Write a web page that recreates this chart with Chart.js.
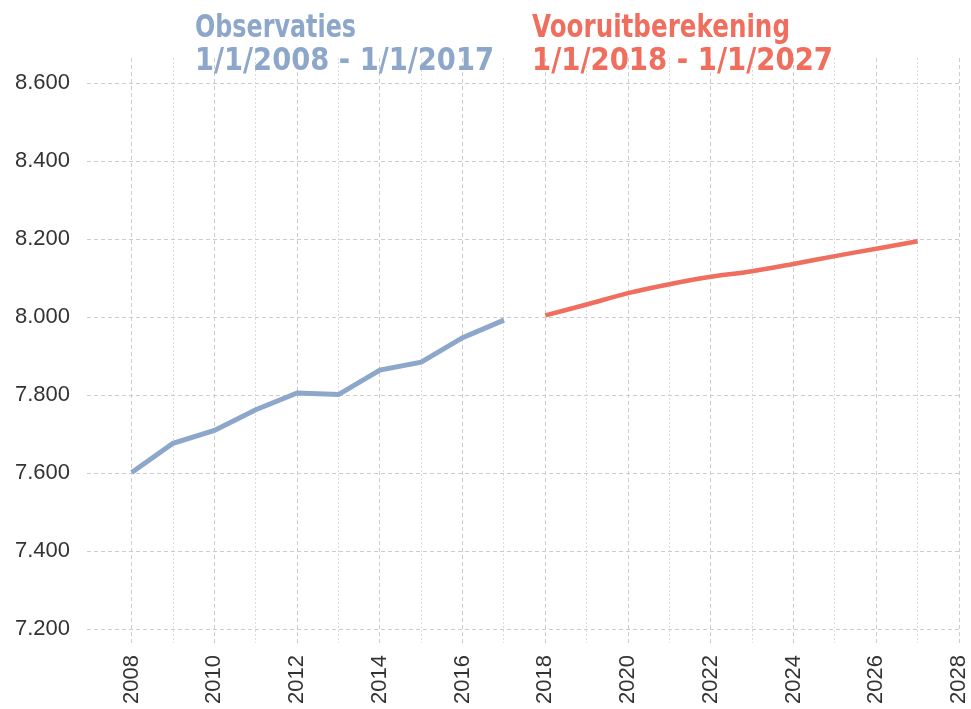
<!DOCTYPE html>
<html>
<head>
<meta charset="utf-8">
<script src="https://cdn.jsdelivr.net/npm/chart.js@4"></script>
<style>
  html, body { margin: 0; padding: 0; background: #ffffff; }
  #wrap { position: relative; width: 971px; height: 709px; }
</style>
</head>
<body>
<div id="wrap"><canvas id="c"></canvas></div>
<script>
// ---- data ----
const obsYears = [2008, 2009, 2010, 2011, 2012, 2013, 2014, 2015, 2016, 2017];
const obsValues = [7602, 7677, 7710, 7763, 7806, 7802, 7865, 7885, 7948, 7993];
const projYears = [2018, 2019, 2020, 2021, 2022, 2023, 2024, 2025, 2026, 2027];
const projValues = [8005, 8033, 8062, 8085, 8104, 8118, 8137, 8157, 8176, 8195];
const yTickValues = [7200, 7400, 7600, 7800, 8000, 8200, 8400, 8600];
const xMajorYears = [2008, 2010, 2012, 2014, 2016, 2018, 2020, 2022, 2024, 2026, 2028];
const xMinorYears = [2009, 2011, 2013, 2015, 2017, 2019, 2021, 2023, 2025, 2027];
const titleObs = ['Observaties', '1/1/2008 - 1/1/2017'];
const titleProj = ['Vooruitberekening', '1/1/2018 - 1/1/2027'];

const BLUE = '#8ca7c9';
const RED = '#ef6e5e';

function fmt(v) {
  return String(v).replace(/\B(?=(\d{3})+(?!\d))/g, '.');
}

const titlePlugin = {
  id: 'twoTitles',
  afterDraw(chart) {
    const ctx = chart.ctx;
    ctx.save();
    ctx.font = 'bold 32px "DejaVu Sans", Verdana, sans-serif';
    ctx.textBaseline = 'alphabetic';
    ctx.textAlign = 'left';
    ctx.fillStyle = BLUE;
    ctx.fillText(titleObs[0], 195, 37, 161);
    ctx.fillText(titleObs[1], 195, 70, 299);
    ctx.fillStyle = RED;
    ctx.fillText(titleProj[0], 532, 37, 258);
    ctx.fillText(titleProj[1], 532, 70, 301);
    ctx.restore();
  }
};

function fixPad(axis) {
  axis.paddingLeft = 0;
  axis.paddingRight = 12;
}

new Chart(document.getElementById('c'), {
  type: 'line',
  data: {
    datasets: [
      {
        label: 'Observaties',
        data: obsYears.map((y, i) => ({ x: y, y: obsValues[i] })),
        borderColor: BLUE,
        borderWidth: 5,
        pointRadius: 0,
        tension: 0,
        fill: false,
        xAxisID: 'x'
      },
      {
        label: 'Vooruitberekening',
        data: projYears.map((y, i) => ({ x: y, y: projValues[i] })),
        borderColor: RED,
        borderWidth: 4.5,
        pointRadius: 0,
        tension: 0.3,
        fill: false,
        xAxisID: 'x'
      }
    ]
  },
  options: {
    responsive: true,
    maintainAspectRatio: false,
    animation: false,
    layout: { padding: { top: 58, right: 12, left: 0, bottom: 0 } },
    plugins: {
      legend: { display: false },
      tooltip: { enabled: false },
      title: { display: false }
    },
    scales: {
      x: {
        type: 'linear',
        position: 'bottom',
        min: 2006.92,
        max: 2028,
        afterBuildTicks: (axis) => { axis.ticks = xMajorYears.map(v => ({ value: v })); },
        afterFit: (axis) => { axis.height = 66; fixPad(axis); },
        ticks: {
          autoSkip: false,
          minRotation: 90,
          maxRotation: 90,
          padding: 12,
          color: '#333333',
          font: { family: '"Liberation Sans", Arial, sans-serif', size: 22 },
          callback: (v) => String(v)
        },
        grid: { color: '#cccccc', lineWidth: 1, drawTicks: false },
        border: { display: false, dash: [4, 3] }
      },
      xMinor: {
        type: 'linear',
        position: 'bottom',
        min: 2006.92,
        max: 2028,
        afterBuildTicks: (axis) => { axis.ticks = xMinorYears.map(v => ({ value: v })); },
        afterFit: (axis) => { axis.height = 0; fixPad(axis); },
        ticks: { display: false },
        grid: { color: '#dcdcdc', lineWidth: 1, drawTicks: false },
        border: { display: false, dash: [2, 2] }
      },
      y: {
        type: 'linear',
        min: 7165,
        max: 8665,
        afterBuildTicks: (axis) => { axis.ticks = yTickValues.map(v => ({ value: v })); },
        afterFit: (axis) => { axis.width = 87; axis.paddingTop = 0; axis.paddingBottom = 0; },
        ticks: {
          padding: 17,
          color: '#333333',
          font: { family: '"Liberation Sans", Arial, sans-serif', size: 22 },
          callback: (v) => fmt(v)
        },
        grid: { color: '#cccccc', lineWidth: 1, drawTicks: false },
        border: { display: false, dash: [4, 3] }
      }
    }
  },
  plugins: [titlePlugin]
});
</script>
</body>
</html>
